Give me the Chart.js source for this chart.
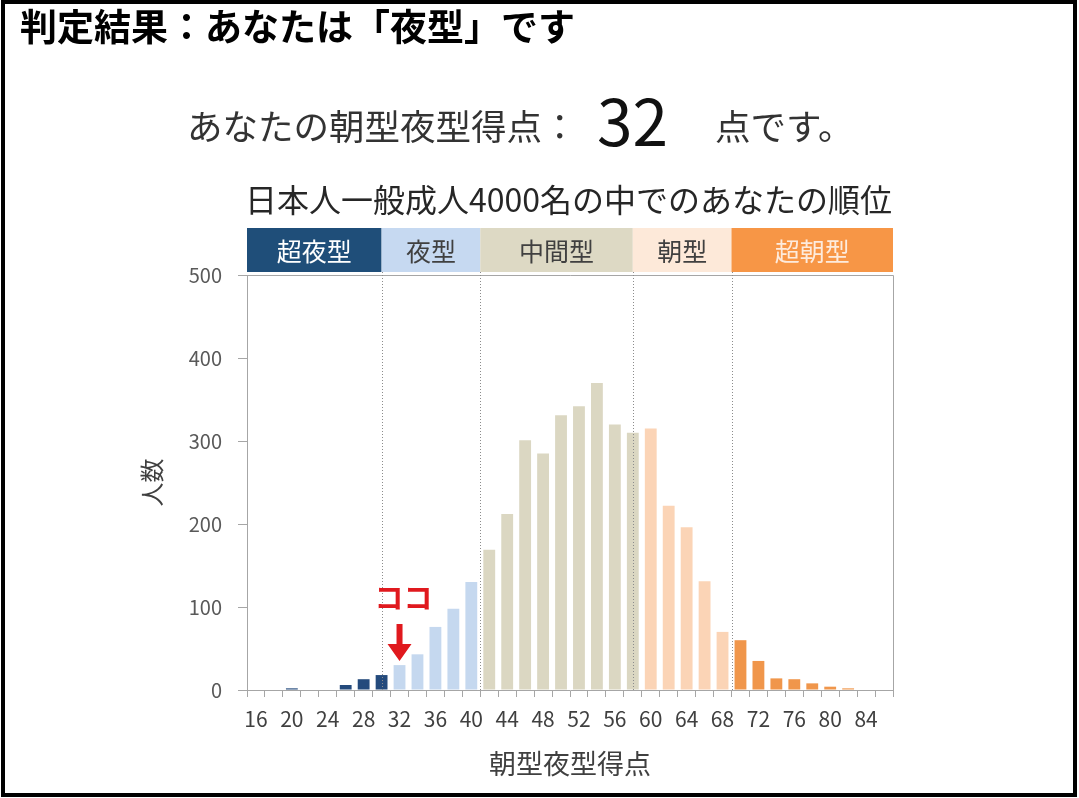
<!DOCTYPE html>
<html lang="ja">
<head>
<meta charset="utf-8">
<script src="https://cdn.jsdelivr.net/npm/chart.js@4.4.1/dist/chart.umd.min.js"></script>
<style>
  html, body { margin: 0; padding: 0; background: #fff; }
  body {
    width: 1079px; height: 798px; position: relative; overflow: hidden;
    font-family: "Noto Sans CJK JP", "Noto Sans", sans-serif;
  }
  #frame {
    position: absolute; left: 1px; top: 0; width: 1076px; height: 797px;
    border: 4px solid #000; box-sizing: border-box; pointer-events: none;
  }
  .txt { position: absolute; white-space: nowrap; line-height: 1; }
  #head { left: 20px; top: 7px; font-size: 37px; font-weight: bold; color: #000; }
  #lead { left: 187px; top: 107px; font-size: 35.5px; color: #333; }
  #num { left: 597px; top: 86px; font-size: 64px; color: #111; }
  #tail { left: 715px; top: 107px; font-size: 35.5px; color: #333; }
  #sub { left: 245px; top: 182px; font-size: 32px; color: #262626; }
  #wrap { position: absolute; left: 0; top: 0; width: 1079px; height: 798px; }
</style>
</head>
<body>
<div id="wrap"><canvas id="chart" width="1079" height="798"></canvas></div>
<div class="txt" id="head">判定結果：あなたは「夜型」です</div>
<div class="txt" id="lead">あなたの朝型夜型得点：</div>
<div class="txt" id="num">32</div>
<div class="txt" id="tail">点です。</div>
<div class="txt" id="sub">日本人一般成人4000名の中でのあなたの順位</div>
<div id="frame"></div>
<script>
"use strict";

// score categories (even numbers) and number of people per score
const SCORES = [16, 18, 20, 22, 24, 26, 28, 30, 32, 34, 36, 38, 40, 42, 44, 46, 48, 50,
                52, 54, 56, 58, 60, 62, 64, 66, 68, 70, 72, 74, 76, 78, 80, 82, 84, 86];
const COUNTS = [0, 0, 2, 0, 0, 6, 13, 18, 30, 43, 76, 98, 130, 169, 212, 301, 285, 331,
                342, 370, 320, 310, 315, 222, 196, 131, 70, 60, 35, 14, 13, 8, 4, 2, 0, 0];

const GROUP_NAMES = ["超夜型", "夜型", "中間型", "朝型", "超朝型"];
const GROUP_LAST = [30, 40, 58, 68, 86];   // last score belonging to each group
const DIVIDERS = [30, 41, 58, 69];         // where the dotted separators sit (score units)
const Y_TICKS = [0, 100, 200, 300, 400, 500];
const USER_SCORE = 32;
const MARK_TEXT = "ココ";

const FONT = '"Noto Sans CJK JP", "Noto Sans", sans-serif';
const BAR_COLORS = ["#244a7c", "#c5d8ef", "#dbd7c2", "#fbd4b6", "#f0964b"];
const BAND_COLORS = ["#1f4e79", "#c6d9f1", "#ddd9c4", "#fde9d9", "#f79646"];
const BAND_TEXT = ["#ffffff", "#404040", "#404040", "#404040", "#fdebdd"];
const AXIS = "#a6a6a6";
const RED = "#e0191e";

function groupOf(score) {
  for (let g = 0; g < GROUP_LAST.length; g++) if (score <= GROUP_LAST[g]) return g;
  return GROUP_LAST.length - 1;
}

// score value -> fractional category index, so the category scale can place it
const idx = (score) => (score - SCORES[0]) / (SCORES[1] - SCORES[0]);

const bandPlugin = {
  id: "band",
  afterDraw(chart) {
    const { ctx, chartArea: a, scales: { x } } = chart;
    const edges = [a.left, ...DIVIDERS.map((d) => x.getPixelForValue(idx(d))), a.right];
    const top = a.top - 47, bottom = a.top - 3;
    ctx.save();
    for (let g = 0; g < GROUP_NAMES.length; g++) {
      ctx.fillStyle = BAND_COLORS[g];
      ctx.fillRect(edges[g], top, edges[g + 1] - edges[g], bottom - top);
      ctx.fillStyle = BAND_TEXT[g];
      ctx.font = `25px ${FONT}`;
      ctx.textAlign = "center";
      ctx.textBaseline = "middle";
      ctx.fillText(GROUP_NAMES[g], (edges[g] + edges[g + 1]) / 2, (top + bottom) / 2 + 1);
    }
    ctx.restore();
  },
};

const framePlugin = {
  id: "frameLines",
  afterDatasetsDraw(chart) {
    const { ctx, chartArea: a, scales: { x, y } } = chart;
    ctx.save();
    // top and right edges of the plot box
    ctx.strokeStyle = AXIS;
    ctx.lineWidth = 1;
    ctx.beginPath();
    ctx.moveTo(a.left, a.top + 0.5);
    ctx.lineTo(a.right + 0.5, a.top + 0.5);
    ctx.lineTo(a.right + 0.5, a.bottom);
    ctx.stroke();
    // dotted group separators
    ctx.strokeStyle = "#8c8c8c";
    ctx.setLineDash([1, 2]);
    for (const d of DIVIDERS) {
      const px = Math.round(x.getPixelForValue(idx(d))) + 0.5;
      ctx.beginPath();
      ctx.moveTo(px, a.top - 3);
      ctx.lineTo(px, a.bottom);
      ctx.stroke();
    }
    ctx.setLineDash([]);
    // "ココ" marker with a block arrow over the user's bar
    const i = SCORES.indexOf(USER_SCORE);
    const bx = x.getPixelForValue(i);
    const tip = y.getPixelForValue(COUNTS[i]) - 4;
    ctx.fillStyle = RED;
    ctx.beginPath();
    ctx.moveTo(bx - 3, tip - 37);
    ctx.lineTo(bx + 3, tip - 37);
    ctx.lineTo(bx + 3, tip - 17);
    ctx.lineTo(bx + 12, tip - 17);
    ctx.lineTo(bx, tip);
    ctx.lineTo(bx - 12, tip - 17);
    ctx.lineTo(bx - 3, tip - 17);
    ctx.closePath();
    ctx.fill();
    ctx.font = `bold 29px ${FONT}`;
    ctx.textAlign = "center";
    ctx.textBaseline = "middle";
    ctx.fillText(MARK_TEXT, bx + 4, tip - 63);
    ctx.restore();
  },
};

new Chart(document.getElementById("chart"), {
  type: "bar",
  data: {
    labels: SCORES.map(String),
    datasets: [{
      data: COUNTS,
      backgroundColor: SCORES.map((s) => BAR_COLORS[groupOf(s)]),
      borderWidth: 0,
      categoryPercentage: 1,
      barPercentage: 0.66,
    }],
  },
  options: {
    responsive: false,
    animation: false,
    events: [],
    layout: { padding: { left: 137, top: 275, right: 186, bottom: 18 } },
    plugins: { legend: { display: false }, tooltip: { enabled: false } },
    scales: {
      x: {
        ticks: {
          autoSkip: false, maxRotation: 0, minRotation: 0, padding: 9,
          color: "#404040", font: { family: FONT, size: 21 },
          callback: (v, i) => (i % 2 === 0 ? SCORES[i] : ""),
        },
        grid: { drawOnChartArea: false, offset: true, tickLength: 7, color: AXIS },
        border: { color: AXIS },
        title: { display: true, text: "朝型夜型得点", color: "#404040",
                 font: { family: FONT, size: 27 }, padding: 0 },
        afterFit: (s) => { s.height = 90; },
      },
      y: {
        min: Y_TICKS[0], max: Y_TICKS[Y_TICKS.length - 1],
        afterBuildTicks: (s) => { s.ticks = Y_TICKS.map((v) => ({ value: v })); },
        ticks: { padding: 16, color: "#595959", font: { family: FONT, size: 20 } },
        grid: { drawOnChartArea: false, tickLength: 9, color: AXIS },
        border: { color: AXIS },
        title: { display: true, text: "人数", color: "#404040",
                 font: { family: FONT, size: 24 }, padding: 0 },
        afterFit: (s) => { s.width = 110; },
      },
    },
  },
  plugins: [bandPlugin, framePlugin],
});
</script>
</body>
</html>
